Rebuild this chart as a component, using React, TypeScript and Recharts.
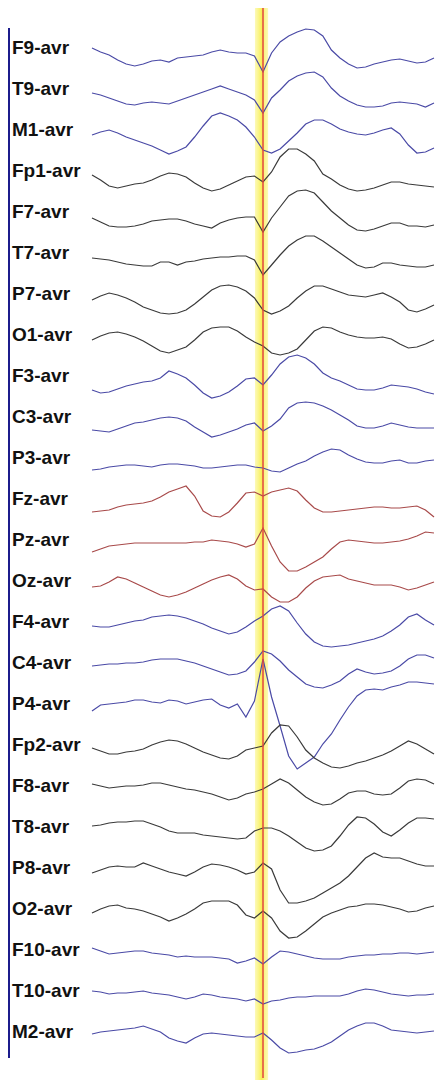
import React from 'react';
import { LineChart, Line, XAxis, YAxis, ReferenceArea, ReferenceLine } from 'recharts';

// montage labels, top to bottom
const channels = [
    'F9-avr', 'T9-avr', 'M1-avr', 'Fp1-avr', 'F7-avr', 'T7-avr', 'P7-avr', 'O1-avr',
    'F3-avr', 'C3-avr', 'P3-avr', 'Fz-avr', 'Pz-avr', 'Oz-avr', 'F4-avr', 'C4-avr',
    'P4-avr', 'Fp2-avr', 'F8-avr', 'T8-avr', 'P8-avr', 'O2-avr', 'F10-avr', 'T10-avr', 'M2-avr'
];

const BLUE = '#4a4aa6';
const BLACK = '#3a3a3a';
const RED = '#a84a4a';

const channelColors = [
    BLUE, BLUE, BLUE, BLACK, BLACK, BLACK, BLACK, BLACK,
    BLUE, BLUE, BLUE, RED, RED, RED, BLUE, BLUE,
    BLUE, BLACK, BLACK, BLACK, BLACK, BLACK, BLUE, BLUE, BLUE
];

// sample index along the epoch, marker sits on sample 20
const samples = Array.from({ length: 41 }, (_, i) => i);
const MARKER = 20;

// amplitudes per channel (up is positive)
const f9 = [0, -4, -7, -12, -16, -18, -16, -13, -12, -14, -10, -9, -8, -7, -4, -2, -4, -5, -5, -8, -24, -5, 6, 12, 16, 19, 18, 12, -2, -10, -16, -20, -19, -16, -14, -12, -11, -13, -15, -14, -10];
const t9 = [-4, -6, -9, -12, -15, -16, -14, -13, -14, -15, -12, -9, -6, -3, 0, 3, 0, -3, -6, -11, -24, -9, -1, 8, 13, 16, 17, 12, 1, -7, -12, -16, -18, -18, -17, -14, -13, -14, -15, -18, -14];
const m1 = [-5, -2, 0, -3, -7, -10, -13, -16, -20, -24, -21, -17, -7, 4, 14, 17, 14, 10, 3, -7, -20, -23, -19, -11, -3, 6, 10, 10, 6, 1, -2, -4, -5, -3, 0, 2, -4, -15, -23, -22, -18];
const fp1 = [-4, -9, -15, -17, -15, -13, -12, -9, -5, -2, -3, -6, -12, -17, -20, -18, -14, -10, -6, -5, -11, -1, 14, 22, 22, 17, 10, -3, -8, -14, -18, -20, -19, -17, -14, -11, -11, -13, -14, -15, -16];
const f7 = [-6, -10, -14, -15, -15, -14, -12, -9, -8, -7, -7, -9, -12, -14, -16, -11, -8, -6, -5, -5, -20, -6, 5, 16, 21, 22, 19, 10, 1, -6, -13, -18, -19, -17, -14, -11, -11, -14, -14, -15, -13];
const t7 = [-5, -6, -7, -9, -11, -12, -13, -13, -9, -9, -12, -9, -8, -6, -5, -4, -4, -3, -3, -7, -22, -12, -2, 7, 13, 17, 17, 12, 6, 0, -6, -12, -15, -14, -10, -10, -12, -13, -14, -14, -12];
const p7 = [-6, -2, 1, -1, -4, -8, -13, -16, -19, -20, -19, -16, -10, -3, 4, 8, 9, 7, 3, -4, -16, -20, -17, -12, -4, 3, 8, 8, 5, 2, -1, -2, -3, -1, 1, -3, -8, -16, -18, -15, -11];
const o1 = [-5, -1, 2, 3, 1, -2, -6, -11, -16, -18, -15, -12, -5, 3, 7, 8, 8, 4, -2, -7, -11, -18, -20, -18, -14, -5, 4, 8, 7, 3, 0, -2, -3, -3, -2, -4, -9, -13, -12, -9, -5];
const f3 = [-14, -17, -16, -13, -10, -8, -6, -5, -2, 5, 2, -2, -9, -17, -22, -20, -16, -10, -3, -2, -9, 1, 12, 19, 21, 18, 12, 3, -2, -5, -9, -13, -14, -14, -12, -9, -10, -11, -13, -16, -18];
const c3 = [-13, -14, -15, -12, -9, -6, -5, -3, -1, 0, -1, -4, -10, -15, -20, -18, -15, -12, -8, -6, -14, -9, -2, 9, 14, 15, 14, 11, 7, 2, -3, -9, -11, -11, -9, -6, -8, -10, -11, -11, -11];
const p3 = [-12, -11, -9, -8, -7, -7, -8, -9, -7, -6, -6, -7, -8, -10, -10, -9, -8, -7, -7, -9, -10, -13, -14, -10, -6, -3, 2, 6, 9, 8, 3, -1, -4, -5, -5, -3, -2, -5, -5, -3, -2];
const fz = [-13, -12, -11, -8, -6, -5, -4, -2, 2, 7, 10, 13, 3, -12, -17, -18, -13, -4, 6, 7, 3, 7, 9, 11, 8, -1, -9, -13, -13, -12, -11, -10, -9, -8, -8, -9, -9, -8, -7, -11, -18];
const pz = [-12, -9, -6, -5, -4, -3, -3, -3, -3, -3, -3, -3, -2, -2, 0, -1, -2, -4, -7, -4, 12, -6, -22, -31, -31, -27, -22, -17, -9, -2, 0, -1, -2, -3, -3, -2, -1, 1, 4, 8, 7];
const oz = [-6, -5, -1, 4, 2, -2, -6, -10, -14, -16, -14, -11, -7, -3, 1, 4, 6, 2, -5, -9, -8, -16, -21, -21, -16, -7, 0, 4, 5, 6, 2, 0, -2, -4, -4, -4, -6, -9, -7, -4, -1];
const f4 = [-4, -5, -5, -3, -1, 1, 2, 5, 6, 7, 6, 4, 1, -2, -6, -9, -12, -10, -5, 1, 6, 13, 16, 11, -1, -12, -20, -24, -25, -24, -23, -21, -19, -17, -14, -9, -3, 5, 8, 2, -3];
const c4 = [-3, -2, -1, -1, 0, 0, 1, 3, 4, 4, 4, 2, 0, -3, -6, -9, -12, -11, -8, 1, 12, 9, 2, -7, -14, -21, -24, -25, -22, -18, -11, -6, -9, -11, -10, -8, -3, 4, 8, 8, 5];
const p4 = [-7, -1, 0, 1, 2, 4, 4, 2, 1, 4, 3, 0, 2, 4, 5, -1, -4, 0, -13, 3, 45, 7, -22, -52, -65, -59, -53, -40, -30, -16, -3, 8, 14, 15, 14, 17, 19, 22, 22, 21, 20];
const fp2 = [-3, -6, -9, -9, -7, -6, -4, 0, 3, 5, 4, 1, -3, -7, -10, -13, -14, -11, -5, -3, -1, 12, 20, 19, 8, -5, -13, -18, -22, -23, -21, -18, -16, -13, -10, -6, -1, 4, 1, -4, -9];
const f8 = [2, 0, -2, -1, 0, 0, 1, 3, 3, 1, -1, -3, -4, -6, -8, -11, -14, -12, -8, -6, -3, 2, 7, 3, -4, -11, -16, -19, -18, -13, -7, -5, -5, -8, -9, -8, -2, 5, 7, 6, 2];
const t8 = [1, 2, 4, 5, 5, 6, 6, 3, 0, -4, -6, -6, -6, -8, -9, -10, -11, -12, -11, -4, -1, -1, -4, -9, -15, -21, -24, -23, -19, -9, 2, 10, 9, 3, -5, -9, -3, 4, 9, 9, 8];
const p8 = [-5, -2, 1, 2, 1, 1, 5, 2, -1, -4, -6, -8, -4, 1, 4, 3, 1, -2, -6, -4, 5, -1, -22, -35, -35, -33, -30, -25, -20, -15, -8, 1, 10, 15, 11, 10, 10, 7, 4, 2, 2];
const o2 = [-4, 0, 3, 4, 1, 0, -2, -5, -8, -12, -9, -5, 0, 6, 8, 8, 8, 4, -6, -9, -2, -9, -22, -29, -28, -22, -15, -8, -4, -1, 2, 3, 5, 5, 4, 2, 0, -3, -2, 1, 3];
const f10 = [2, -1, -4, -3, -2, -1, -1, -3, -4, -5, -7, -6, -7, -7, -7, -8, -9, -13, -11, -8, -14, -7, -1, -2, -4, -6, -8, -9, -9, -9, -7, -6, -5, -5, -4, -4, -3, -3, -4, -3, -2];
const t10 = [0, -1, -3, -2, -2, -1, 0, -2, -3, -4, -6, -8, -6, -3, -4, -6, -7, -8, -10, -8, -13, -10, -9, -7, -6, -6, -5, -5, -5, -5, -3, 0, 2, 1, -1, -3, -4, -5, -4, -4, -3];
const m2 = [-2, 0, 1, 2, 3, 4, 6, 3, 0, -6, -9, -11, -6, -2, -1, -2, -3, -4, -5, -5, -1, -8, -16, -21, -20, -18, -17, -14, -10, -4, 2, 6, 9, 9, 6, 2, 1, 0, -1, 0, 1];

const traces = [f9, t9, m1, fp1, f7, t7, p7, o1, f3, c3, p3, fz, pz, oz, f4, c4, p4, fp2, f8, t8, p8, o2, f10, t10, m2];

const SPACING = 41;
const offsets = channels.map((_, i) => (channels.length - 1 - i) * SPACING);

const data = samples.map((t) => {
    const row: Record<string, number> = { t };
    channels.forEach((name, i) => {
        row[name] = offsets[i] + traces[i][t];
    });
    return row;
});

const ChannelTick = (props: any) => {
    const { y, payload } = props;
    const idx = offsets.indexOf(payload.value);
    return (
        <text
            x={12}
            y={y + 5.5}
            fontFamily="'Liberation Sans', Arial, sans-serif"
            fontWeight="bold"
            fontSize={19}
            fill="#111"
        >
            {channels[idx]}
        </text>
    );
};

export default function App() {
    return (
        <div style={{ position: 'absolute', left: 0, top: 0, width: 436, height: 1081, background: '#fff' }}>
            {/* montage bracket on the left */}
            <div style={{ position: 'absolute', left: 8, top: 28, width: 2, height: 1030, background: '#1c1c8c' }} />
            <LineChart
                width={436}
                height={1081}
                data={data}
                margin={{ top: 0, right: 2, bottom: 0, left: 0 }}
            >
                <defs>
                    <linearGradient id="markerBand" x1="0" y1="0" x2="1" y2="0">
                        <stop offset="0%" stopColor="#fcf9b8" />
                        <stop offset="30%" stopColor="#faf483" />
                        <stop offset="50%" stopColor="#f8ef58" />
                        <stop offset="70%" stopColor="#faf483" />
                        <stop offset="100%" stopColor="#fcf9b8" />
                    </linearGradient>
                </defs>
                <XAxis dataKey="t" type="number" domain={[0, 40]} hide />
                <YAxis
                    type="number"
                    domain={[-49, 1032]}
                    ticks={offsets}
                    interval={0}
                    width={92}
                    axisLine={false}
                    tickLine={false}
                    tick={<ChannelTick />}
                />
                <ReferenceArea
                    x1={MARKER - 0.94}
                    x2={MARKER + 0.6}
                    y1={-48}
                    y2={1024}
                    fill="url(#markerBand)"
                    fillOpacity={1}
                    stroke="none"
                />
                {channels.map((name, i) => (
                    <Line
                        key={name}
                        dataKey={name}
                        type="linear"
                        stroke={channelColors[i]}
                        strokeWidth={1.2}
                        dot={false}
                        isAnimationActive={false}
                    />
                ))}
                <ReferenceLine
                    segment={[{ x: MARKER, y: 1024 }, { x: MARKER, y: -46 }]}
                    stroke="#e2443e"
                    strokeWidth={1.5}
                />
            </LineChart>
        </div>
    );
}
